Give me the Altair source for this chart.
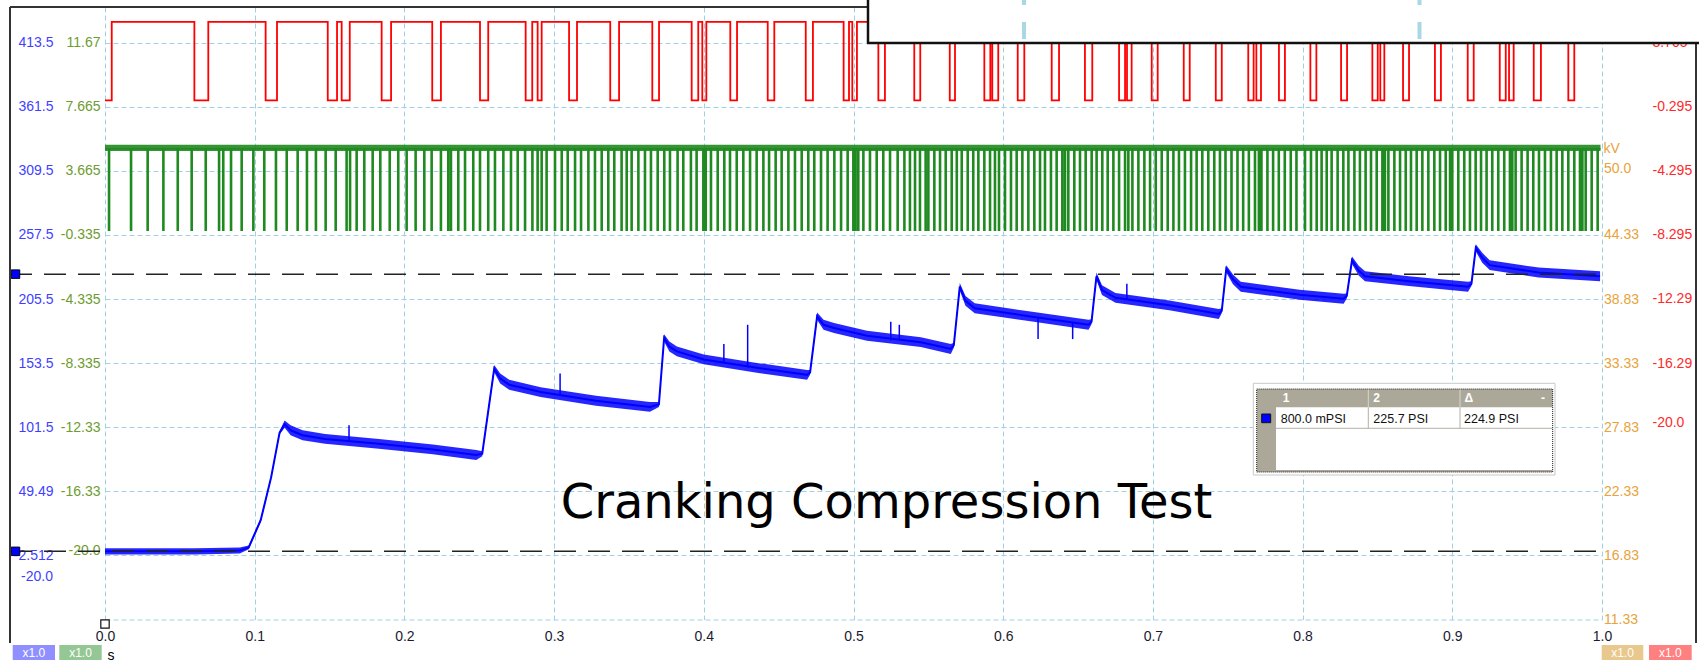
import altair as alt
import pandas as pd

FONT = "Liberation Sans"
GRID = "#9fd0e3"

# ---------------- axis ticks (as printed by the scope) ----------------
T_TICKS = [0.0, 0.1, 0.2, 0.3, 0.4, 0.5, 0.6, 0.7, 0.8, 0.9, 1.0]
BLUE_TICKS = [413.5, 361.5, 309.5, 257.5, 205.5, 153.5, 101.5, 49.49, -2.512]
BLUE_EXTRA = [-20.0]
GREEN_TICKS = [11.67, 7.665, 3.665, -0.335, -4.335, -8.335, -12.33, -16.33, -20.0]
ORANGE_TICKS = [50.0, 44.33, 38.83, 33.33, 27.83, 22.33, 16.83, 11.33]
RED_TICKS = [3.705, -0.295, -4.295, -8.295, -12.29, -16.29, -20.0]

# visible ranges of the four channels
BLUE_RANGE = [-54.512, 442.45]     # PSI
GREEN_RANGE = [-24.335, 13.893]    # V
ORANGE_RANGE = [11.33, 63.89]      # kV
RED_RANGE = [-32.295, 5.933]       # V

# ---------------- channel A: cylinder pressure (PSI) ----------------
BLUE_T = [0.0, 0.03, 0.06, 0.09, 0.096, 0.104, 0.111, 0.1166, 0.120, 0.124,
          0.132, 0.147, 0.183, 0.219, 0.248, 0.252, 0.260, 0.264, 0.270, 0.291,
          0.328, 0.364, 0.370, 0.3735, 0.377, 0.382, 0.400, 0.4365, 0.469, 0.471,
          0.4757, 0.480, 0.487, 0.509, 0.545, 0.565, 0.567, 0.571, 0.5748, 0.581,
          0.617, 0.657, 0.659, 0.6623, 0.666, 0.675, 0.711, 0.744, 0.746, 0.749,
          0.7535, 0.7587, 0.798, 0.8274, 0.8295, 0.833, 0.8375, 0.8417, 0.871, 0.9105,
          0.9128, 0.9157, 0.920, 0.925, 0.9577, 0.9987]
BLUE_P = [0.8, 0.8, 0.8, 1.5, 4, 26, 61, 97, 104, 99,
          95, 92, 88, 83.5, 79, 80, 149, 141, 136, 130,
          123, 118, 120, 174, 167, 163, 156.5, 149.5, 144, 146,
          191.5, 184.6, 182, 175.7, 170.5, 165, 168, 215.5, 204, 198,
          191.6, 184.6, 187, 224, 212.7, 206.5, 200.4, 193.4, 196, 230,
          221.5, 215.5, 209, 205.7, 208, 237, 228.5, 224, 220, 215.5,
          218, 247, 239, 233, 227, 224]
# half height of the noise band around the trace (PSI)
BLUE_NOISE = [2.5, 2.5, 2.5, 2.5, 1.5, 1.5, 1.5, 1.5, 3, 4,
              4, 4, 4, 4, 4, 2, 3, 4, 4, 4,
              4, 4, 2, 3, 4, 4, 4, 4, 4, 2,
              3, 4, 4, 4, 4, 4, 2, 3, 4, 4,
              4, 4, 2, 3, 4, 4, 4, 4, 2, 3,
              4, 4, 4, 4, 2, 3, 4, 4, 4, 4,
              2, 3, 4, 4, 4, 4]
# isolated noise spikes: time, from, to (PSI)
BLUE_SPIKES = [
    (0.163, 90, 103), (0.304, 127, 145), (0.4134, 154, 169), (0.4293, 150, 184.6),
    (0.5249, 172, 187), (0.5306, 172, 184.6), (0.6233, 190, 173), (0.6464, 187, 173),
    (0.6826, 205, 218),
]

# cursors (PSI)
CURSORS = [0.8, 225.7]

# ---------------- channel D: cam signal (V), low intervals ----------------
RED_HIGH, RED_LOW_V = 5.0, 0.1
RED_LOW = [
    (0.0, 0.0045), (0.0597, 0.0690), (0.1073, 0.1149), (0.1488, 0.1550), (0.1581, 0.1635),
    (0.1848, 0.1911), (0.2186, 0.2244), (0.2505, 0.2560), (0.2810, 0.2854), (0.2890, 0.2917),
    (0.3100, 0.3153), (0.3375, 0.3434), (0.3656, 0.3701), (0.3919, 0.3963), (0.3990, 0.4017),
    (0.4177, 0.4222), (0.4427, 0.4471), (0.4681, 0.4729), (0.4934, 0.4970), (0.4992, 0.5023),
    (0.5166, 0.5210), (0.5406, 0.5446), (0.5643, 0.5678), (0.5874, 0.5914), (0.5927, 0.5967),
    (0.6097, 0.6141), (0.6324, 0.6373), (0.6546, 0.6595), (0.6774, 0.6814), (0.6827, 0.6858),
    (0.6992, 0.7032), (0.7206, 0.7246), (0.7420, 0.7460), (0.7637, 0.7673), (0.7691, 0.7722),
    (0.7842, 0.7882), (0.8052, 0.8092), (0.8257, 0.8297), (0.8466, 0.8502), (0.8519, 0.8546),
    (0.8671, 0.8711), (0.8884, 0.8924), (0.9103, 0.9143), (0.9317, 0.9357), (0.9379, 0.9410),
    (0.9544, 0.9592), (0.9775, 0.9815),
]
RED_END = 0.999

# ---------------- channel B: crank signal (V), dip times ----------------
GREEN_HIGH, GREEN_LOW = 5.05, -0.05
GREEN_BAND = [4.9, 5.3]           # noise band on the high level
GREEN_HALF = 0.0004
GREEN_DIPS = [
    0.0027, 0.0174, 0.0285, 0.0390, 0.0486, 0.0579, 0.0673, 0.0762, 0.0790, 0.0842,
    0.0913, 0.0991, 0.1064, 0.1142, 0.1214, 0.1287, 0.1349, 0.1409, 0.1474, 0.1541,
    0.1614, 0.1637, 0.1681, 0.1732, 0.1788, 0.1839, 0.1902, 0.1959, 0.2015, 0.2075,
    0.2133, 0.2182, 0.2244, 0.2293, 0.2311, 0.2360, 0.2405, 0.2460, 0.2505, 0.2560,
    0.2605, 0.2661, 0.2712, 0.2757, 0.2806, 0.2855, 0.2890, 0.2917, 0.2950, 0.3006,
    0.3051, 0.3091, 0.3140, 0.3180, 0.3229, 0.3273, 0.3318, 0.3362, 0.3402, 0.3451,
    0.3485, 0.3518, 0.3563, 0.3607, 0.3647, 0.3692, 0.3736, 0.3774, 0.3825, 0.3863,
    0.3914, 0.3952, 0.3997, 0.4013, 0.4048, 0.4093, 0.4137, 0.4175, 0.4220, 0.4264,
    0.4309, 0.4353, 0.4398, 0.4436, 0.4480, 0.4520, 0.4565, 0.4609, 0.4654, 0.4698,
    0.4738, 0.4783, 0.4827, 0.4872, 0.4917, 0.4961, 0.4999, 0.5014, 0.5032, 0.5066,
    0.5110, 0.5155, 0.5199, 0.5244, 0.5295, 0.5340, 0.5377, 0.5411, 0.5444, 0.5482,
    0.5500, 0.5540, 0.5578, 0.5616, 0.5656, 0.5690, 0.5723, 0.5763, 0.5800, 0.5834,
    0.5874, 0.5912, 0.5945, 0.5972, 0.6012, 0.6052, 0.6090, 0.6128, 0.6168, 0.6208,
    0.6246, 0.6279, 0.6319, 0.6357, 0.6395, 0.6413, 0.6435, 0.6475, 0.6513, 0.6551,
    0.6591, 0.6624, 0.6662, 0.6698, 0.6736, 0.6774, 0.6814, 0.6836, 0.6863, 0.6903,
    0.6943, 0.6981, 0.7019, 0.7059, 0.7099, 0.7137, 0.7174, 0.7214, 0.7255, 0.7292,
    0.7330, 0.7370, 0.7410, 0.7448, 0.7485, 0.7525, 0.7565, 0.7603, 0.7641, 0.7682,
    0.7708, 0.7725, 0.7765, 0.7803, 0.7841, 0.7881, 0.7921, 0.7959, 0.8016, 0.8056,
    0.8094, 0.8127, 0.8161, 0.8194, 0.8234, 0.8272, 0.8306, 0.8346, 0.8383, 0.8421,
    0.8457, 0.8495, 0.8533, 0.8550, 0.8573, 0.8613, 0.8651, 0.8689, 0.8724, 0.8762,
    0.8800, 0.8840, 0.8880, 0.8918, 0.8956, 0.8985, 0.9000, 0.9040, 0.9080, 0.9118,
    0.9156, 0.9192, 0.9229, 0.9267, 0.9307, 0.9347, 0.9385, 0.9401, 0.9423, 0.9463,
    0.9503, 0.9541, 0.9579, 0.9619, 0.9659, 0.9697, 0.9735, 0.9775, 0.9815, 0.9853,
    0.9869, 0.9891, 0.9931, 0.9971,
]
GREEN_END = 0.999

TITLE = "Cranking Compression Test"

# ---------------- build trace tables ----------------
red_pts = []
if RED_LOW[0][0] > 0:
    red_pts.append((0.0, RED_HIGH))
for a, b in RED_LOW:
    if a <= 0:
        red_pts.append((0.0, RED_LOW_V))
    else:
        red_pts += [(a, RED_HIGH), (a, RED_LOW_V)]
    red_pts += [(b, RED_LOW_V), (b, RED_HIGH)]
red_pts.append((RED_END, RED_HIGH))
red_df = pd.DataFrame(red_pts, columns=["t", "v"])
red_df["i"] = range(len(red_df))

green_pts = [(0.0, GREEN_HIGH)]
for d in GREEN_DIPS:
    a, b = max(d - GREEN_HALF, 0.0), d + GREEN_HALF
    green_pts += [(a, GREEN_HIGH), (a, GREEN_LOW), (b, GREEN_LOW), (b, GREEN_HIGH)]
green_pts.append((GREEN_END, GREEN_HIGH))
green_df = pd.DataFrame(green_pts, columns=["t", "v"])
green_df["i"] = range(len(green_df))
green_band_df = pd.DataFrame({"t": [0.0, GREEN_END], "v": [GREEN_BAND[0]] * 2, "hi": [GREEN_BAND[1]] * 2})

blue_df = pd.DataFrame({"t": BLUE_T, "psi": BLUE_P})
blue_band_df = pd.DataFrame({"t": BLUE_T,
                             "psi": [p - n for p, n in zip(BLUE_P, BLUE_NOISE)],
                             "hi": [p + n for p, n in zip(BLUE_P, BLUE_NOISE)]})
spike_df = pd.DataFrame(BLUE_SPIKES, columns=["t", "psi", "hi"])
cur_df = pd.DataFrame({"psi": CURSORS})
DUMMY = pd.DataFrame({"k": [0]})

W, H = 1497, 612.5

LBL = "datum.value % 1 == 0 ? datum.value + '.0' : datum.value + ''"

x_enc = alt.X(
    "t:Q",
    scale=alt.Scale(domain=[0, 1], nice=False, zero=False),
    axis=alt.Axis(
        values=T_TICKS, format=".1f", grid=True, gridColor=GRID, gridDash=[5, 3],
        domain=True, domainColor=GRID, domainDash=[5, 3], ticks=False,
        labelPadding=10, labelFlush=False, labelOverlap=False,
        labelFont=FONT, labelFontSize=14, labelColor="#1a1a2e",
        title="s", titleX=2, titleY=36, titleAlign="left", titleBaseline="middle",
        titleFont=FONT, titleFontSize=14, titleFontWeight="normal", titleColor="#000",
    ),
)


def y_axis(orient, values, color, pad, grid=False):
    return alt.Axis(
        orient=orient, values=values, labelExpr=LBL, grid=grid, gridColor=GRID,
        gridDash=[5, 3], ticks=False, domain=False, labelPadding=pad,
        labelColor=color, labelFont=FONT, labelFontSize=14, labelOverlap=False,
        title=None,
    )


blue_y = alt.Y("psi:Q", scale=alt.Scale(domain=BLUE_RANGE, nice=False, zero=False),
               axis=y_axis("left", BLUE_TICKS, "#3f3fff", 52, grid=True))

# ---- channel A group: trace, noise band, spikes, cursors, extra label ----
blue_band = alt.Chart(blue_band_df).mark_area(color="#0000ff", opacity=0.85).encode(
    x=x_enc, y=blue_y, y2="hi:Q")
blue_line = alt.Chart(blue_df).mark_line(color="#0000ff", strokeWidth=2).encode(x=x_enc, y=blue_y)
blue_spikes = alt.Chart(spike_df).mark_rule(color="#0000ff", strokeWidth=1.5).encode(
    x=x_enc, y=blue_y, y2="hi:Q")
cursor_rule = alt.Chart(cur_df).mark_rule(color="#222", strokeWidth=1.5, strokeDash=[22, 12]).encode(
    y=blue_y, x=alt.value(-95), x2=alt.value(W))
cursor_sq = alt.Chart(cur_df).mark_square(size=72, fill="#0000ff", stroke="#001", strokeWidth=1, opacity=1).encode(
    y=blue_y, x=alt.value(-89.5))
blue_extra = alt.Chart(pd.DataFrame({"psi": BLUE_EXTRA, "s": ["-20.0"]})).mark_text(
    align="right", baseline="middle", font=FONT, fontSize=14, color="#3f3fff").encode(
    y=blue_y, x=alt.value(-52), text="s:N")
blue_group = alt.layer(blue_line, blue_band, blue_spikes, cursor_rule, blue_extra, cursor_sq)

# ---- channel B ----
green_y = alt.Y("v:Q", scale=alt.Scale(domain=GREEN_RANGE, nice=False, zero=False),
                axis=y_axis("left", GREEN_TICKS, "#6e9c2f", 5))
green_line = alt.Chart(green_df).mark_line(color="#1f8a1f", strokeWidth=1.4).encode(
    x=x_enc, y=green_y, order="i:Q")
green_band = alt.Chart(green_band_df).mark_area(color="#1f8a1f", opacity=0.9).encode(
    x=x_enc, y=green_y, y2="hi:Q")
green_group = alt.layer(green_line, green_band)

# ---- channel D ----
red_line = alt.Chart(red_df).mark_line(color="#ff0000", strokeWidth=1.8).encode(
    x=x_enc,
    y=alt.Y("v:Q", scale=alt.Scale(domain=RED_RANGE, nice=False, zero=False),
            axis=y_axis("right", RED_TICKS, "#ff2a2a", 50)),
    order="i:Q",
)

# ---- channel C: axis and unit only ----
orange_unit = alt.Chart(pd.DataFrame({"kv": [ORANGE_TICKS[0]], "u": ["kV"]})).mark_text(
    align="left", baseline="middle", font=FONT, fontSize=14, color="#e8a33a", dy=-20).encode(
    y=alt.Y("kv:Q", scale=alt.Scale(domain=ORANGE_RANGE, nice=False, zero=False),
            axis=y_axis("right", ORANGE_TICKS, "#e8a33a", 1.5)),
    x=alt.value(W + 1.5), text="u:N")


# ---------------- window chrome ----------------
def rect(x, x2, y, y2, **kw):
    return alt.Chart(DUMMY).mark_rect(**kw).encode(
        x=alt.value(x), x2=alt.value(x2), y=alt.value(y), y2=alt.value(y2))


def rule(x, x2, y, y2, **kw):
    return alt.Chart(DUMMY).mark_rule(**kw).encode(
        x=alt.value(x), x2=alt.value(x2), y=alt.value(y), y2=alt.value(y2))


def label(x, y, s, **kw):
    return alt.Chart(DUMMY).mark_text(text=s, **kw).encode(x=alt.value(x), y=alt.value(y))


chrome = [
    # frame
    rule(-95, -95, 0, 636, color="#333", strokeWidth=2),
    rule(-95, 763, 0, 0, color="#333", strokeWidth=2),
    rule(1591, 1591, 36, 636, color="#333", strokeWidth=2),
    # overlay panel at the top right
    rect(763, 1600, -10, 36, fill="white"),
    rule(919, 919, 32, -30, color="#a8d8e4", strokeWidth=4, strokeDash=[17, 17]),
    rule(1314.5, 1314.5, 32, -30, color="#a8d8e4", strokeWidth=4, strokeDash=[17, 17]),
    rule(763, 763, -10, 36, color="#111", strokeWidth=2.5),
    rule(762, 1600, 36, 36, color="#111", strokeWidth=2.5),
]

# measurement table
c1, c2 = CURSORS
cells = [f"{c1 * 1000:.1f} mPSI", f"{c2:.1f} PSI", f"{c2 - c1:.1f} PSI"]
heads = ["1", "2", "\u0394", "-"]
table = [
    rect(1148.3, 1450, 376.3, 468, fill="white", stroke="#c8c8c8", strokeWidth=1),
    rect(1151.7, 1447.7, 382, 465, fill="#aca899"),
    rect(1171, 1447.7, 400.3, 463, fill="white"),
    rule(1171, 1447.7, 421.3, 421.3, color="#b4b0a4", strokeWidth=1),
    rule(1263.3, 1263.3, 400.3, 421.3, color="#b4b0a4", strokeWidth=1),
    rule(1355, 1355, 400.3, 421.3, color="#b4b0a4", strokeWidth=1),
    rule(1263.3, 1263.3, 382, 400.3, color="#d8d6cc", strokeWidth=1),
    rule(1355, 1355, 382, 400.3, color="#d8d6cc", strokeWidth=1),
    rect(1151.7, 1447.7, 382, 465, filled=False, stroke="#222", strokeWidth=1, strokeDash=[1, 1]),
    rect(1156.7, 1165.7, 407, 415.7, fill="#0000ff", stroke="#111", strokeWidth=1),
]
for hx, h in zip([1177.7, 1268.3, 1359.5, 1436], heads):
    table.append(label(hx, 390.7, h, align="left", baseline="middle", font=FONT, fontSize=12,
                       fontWeight="bold", color="white"))
for cx, c in zip([1175.7, 1268.3, 1359], cells):
    table.append(label(cx, 412.3, c, align="left", baseline="middle", font=FONT, fontSize=12.5,
                       color="#111"))

# probe range badges
badges = []
for (bx0, bx1), col in zip([(-92.3, -50), (-45.7, -3.3), (1496.7, 1538.3), (1544, 1586.7)],
                           ["#8f8fff", "#95c795", "#e8c88c", "#ff8080"]):
    badges.append(rect(bx0, bx1, 638, 653, fill=col))
    badges.append(label((bx0 + bx1) / 2, 645.7, "x1.0", align="center", baseline="middle",
                        font=FONT, fontSize=12, color="white"))

trigger = alt.Chart(pd.DataFrame({"t": [0.0]})).mark_square(
    size=70, fill="white", stroke="#111", strokeWidth=1.2, opacity=1).encode(x=x_enc, y=alt.value(617))

title = label(781.5, 511, TITLE, align="center", baseline="alphabetic", font="DejaVu Sans",
              fontSize=48, color="#000")

chart = alt.layer(
    blue_group, green_group, red_line, orange_unit, trigger, title,
    *chrome, *table, *badges,
).resolve_scale(y="independent").properties(
    width=W, height=H,
    autosize=alt.AutoSizeParams(type="none"),
    padding={"left": 105, "top": 7, "right": 97, "bottom": 46.5},
    background="white",
).configure_view(stroke=None)

chart.save("out.html", embed_options={"renderer": "svg", "actions": False})
